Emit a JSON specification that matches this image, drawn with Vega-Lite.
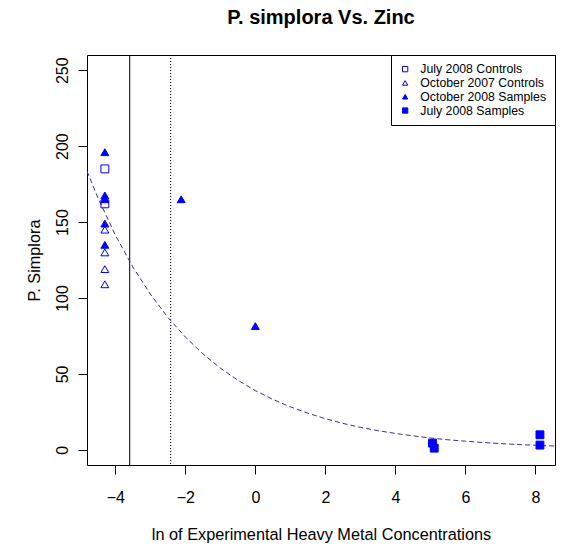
{
  "$schema": "https://vega.github.io/schema/vega-lite/v6.json",
  "width": 468,
  "height": 410,
  "autosize": {"type": "none"},
  "padding": {"left": 87, "top": 55, "right": 8, "bottom": 85},
  "background": "white",
  "title": {"text": "P. simplora Vs. Zinc", "fontSize": 20, "fontWeight": "bold", "font": "Liberation Sans", "color": "black", "offset": 27, "anchor": "middle"},
  "config": {
    "view": {"stroke": "black", "strokeWidth": 1},
    "font": "Liberation Sans",
    "axis": {"grid": false, "domain": false, "tickColor": "black", "tickSize": 9, "labelColor": "black", "titleColor": "black", "labelFont": "Liberation Sans", "titleFont": "Liberation Sans", "labelFontSize": 16, "titleFontSize": 16.3, "titleFontWeight": "normal"},
    "legend": {"orient": "top-right", "offset": 0, "strokeColor": "black", "fillColor": "white", "padding": 8, "labelFontSize": 12.3, "labelFont": "Liberation Sans", "labelColor": "black", "symbolSize": 28, "symbolStrokeWidth": 1, "rowPadding": 0.8, "labelOffset": 9, "cornerRadius": 0}
  },
  "datasets": {
    "points": [
      {"x": -4.3, "y": 185, "group": "July 2008 Controls"},
      {"x": -4.3, "y": 162, "group": "July 2008 Controls"},
      {"x": -4.3, "y": 145, "group": "October 2007 Controls"},
      {"x": -4.3, "y": 130, "group": "October 2007 Controls"},
      {"x": -4.3, "y": 119, "group": "October 2007 Controls"},
      {"x": -4.3, "y": 109, "group": "October 2007 Controls"},
      {"x": -4.3, "y": 196, "group": "October 2008 Samples"},
      {"x": -4.3, "y": 167.5, "group": "October 2008 Samples"},
      {"x": -4.3, "y": 165, "group": "October 2008 Samples"},
      {"x": -4.3, "y": 149, "group": "October 2008 Samples"},
      {"x": -4.3, "y": 135, "group": "October 2008 Samples"},
      {"x": -2.12, "y": 165, "group": "October 2008 Samples"},
      {"x": 0, "y": 81.5, "group": "October 2008 Samples"},
      {"x": 5.06, "y": 4.4, "group": "July 2008 Samples"},
      {"x": 5.11, "y": 1.1, "group": "July 2008 Samples"},
      {"x": 8.13, "y": 9.9, "group": "July 2008 Samples"},
      {"x": 8.13, "y": 3.1, "group": "July 2008 Samples"}
    ],
    "curve": [
      {"x": -4.81, "y": 183.5}, {"x": -4.5, "y": 166.1}, {"x": -4, "y": 141.4}, {"x": -3.5, "y": 120.4},
      {"x": -3, "y": 102.5}, {"x": -2.5, "y": 87.2}, {"x": -2, "y": 74.3}, {"x": -1.5, "y": 63.2},
      {"x": -1, "y": 53.8}, {"x": -0.5, "y": 45.8}, {"x": 0, "y": 39}, {"x": 0.5, "y": 33.2},
      {"x": 1, "y": 28.3}, {"x": 1.5, "y": 24.1}, {"x": 2, "y": 20.5}, {"x": 2.5, "y": 17.4},
      {"x": 3, "y": 14.8}, {"x": 3.5, "y": 12.6}, {"x": 4, "y": 10.8}, {"x": 4.5, "y": 9.2},
      {"x": 5, "y": 7.8}, {"x": 5.5, "y": 6.6}, {"x": 6, "y": 5.7}, {"x": 6.5, "y": 4.8},
      {"x": 7, "y": 4.1}, {"x": 7.5, "y": 3.5}, {"x": 8, "y": 3.0}, {"x": 8.56, "y": 2.5}
    ],
    "solidline": [{"x": -3.59}],
    "dottedline": [{"x": -2.42}]
  },
  "encoding": {
    "x": {"field": "x", "type": "quantitative", "scale": {"domain": [-4.81, 8.56], "nice": false, "zero": false},
      "axis": {"title": "ln of Experimental Heavy Metal Concentrations", "values": [-4, -2, 0, 2, 4, 6, 8], "labelPadding": 15, "titlePadding": 21}}
  },
  "layer": [
    {
      "data": {"name": "solidline"},
      "mark": {"type": "rule", "color": "black", "strokeWidth": 1},
      "encoding": {}
    },
    {
      "data": {"name": "dottedline"},
      "mark": {"type": "rule", "color": "black", "strokeWidth": 1, "strokeDash": [1, 2]},
      "encoding": {}
    },
    {
      "data": {"name": "curve"},
      "mark": {"type": "line", "color": "#33339a", "strokeWidth": 1, "strokeDash": [5, 3], "clip": true},
      "encoding": {
        "y": {"field": "y", "type": "quantitative"}
      }
    },
    {
      "data": {"name": "points"},
      "mark": {"type": "point", "size": 62, "strokeWidth": 1, "opacity": 1},
      "encoding": {
        "y": {"field": "y", "type": "quantitative", "scale": {"domain": [-10, 260], "nice": false, "zero": false},
          "axis": {"title": "P. Simplora", "values": [0, 50, 100, 150, 200, 250], "labelAngle": -90, "labelAlign": "center", "labelBaseline": "alphabetic", "labelPadding": 11, "titlePadding": 12}},
        "shape": {"field": "group", "type": "nominal", "scale": {"domain": ["July 2008 Controls", "October 2007 Controls", "October 2008 Samples", "July 2008 Samples"], "range": ["square", "triangle-up", "triangle-up", "square"]}, "legend": {"title": null}},
        "fill": {"field": "group", "type": "nominal", "scale": {"domain": ["July 2008 Controls", "October 2007 Controls", "October 2008 Samples", "July 2008 Samples"], "range": ["transparent", "transparent", "#0000ff", "#0000ff"]}, "legend": {"title": null}},
        "stroke": {"field": "group", "type": "nominal", "scale": {"domain": ["July 2008 Controls", "October 2007 Controls", "October 2008 Samples", "July 2008 Samples"], "range": ["#0000ff", "#0000ff", "#0000ff", "#0000ff"]}, "legend": {"title": null}}
      }
    }
  ],
  "resolve": {"scale": {"y": "shared"}}
}
